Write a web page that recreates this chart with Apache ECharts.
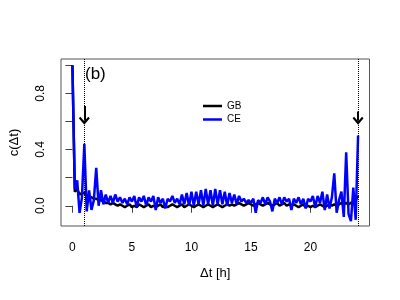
<!DOCTYPE html>
<html>
<head>
<meta charset="utf-8">
<script src="https://cdn.jsdelivr.net/npm/echarts@6/dist/echarts.min.js"></script>
<style>
html,body{margin:0;padding:0;background:#fff;}
#chart{width:400px;height:300px;}
</style>
</head>
<body>
<div id="chart"></div>
<script>
// lag in hours (step 0.2 h, 0 .. 24)
var lagStep = 0.2;
var lagCount = 121;
var lags = [];
for (var i = 0; i < lagCount; i++) { lags.push(+(i * lagStep).toFixed(1)); }

var gbValues = [
 1.00, 0.10, 0.12, 0.08, 0.09, 0.09, 0.07, 0.07, 0.06, 0.05,
 0.05, 0.04, 0.04, 0.03, 0.02, 0.02, 0.01, 0.02, 0.01, 0.00,
 0.01, 0.00, -0.01, 0.00, 0.01, -0.01, 0.00, -0.01, 0.01, 0.00,
 -0.01, 0.00, 0.01, -0.01, 0.00, -0.01, 0.00, 0.01, -0.01, 0.00,
 -0.01, 0.00, 0.01, 0.00, -0.01, 0.00, 0.01, -0.01, 0.00, 0.01,
 0.00, -0.01, 0.00, 0.01, 0.00, -0.01, 0.00, 0.01, 0.00, -0.01,
 0.00, 0.01, 0.00, -0.01, 0.00, 0.01, 0.00, 0.01, 0.00, 0.01,
 0.02, 0.01, 0.00, 0.01, 0.02, 0.01, 0.00, 0.01, 0.02, 0.01,
 0.00, 0.01, 0.02, 0.01, 0.00, 0.01, 0.02, 0.00, 0.01, 0.02,
 0.00, 0.01, 0.00, 0.01, 0.00, -0.01, 0.00, 0.01, -0.01, 0.00,
 -0.01, 0.00, -0.01, 0.00, 0.01, 0.00, -0.01, 0.00, 0.01, 0.00,
 0.01, 0.00, 0.01, 0.02, 0.01, 0.02, 0.01, 0.02, 0.03, 0.04,
 0.07
];

var ceValues = [
 1.00, 0.12, 0.18, -0.05, 0.06, 0.44, -0.04, 0.11, -0.03, 0.04,
 0.27, 0.00, 0.11, 0.01, 0.08, 0.02, 0.07, 0.02, 0.08, 0.03,
 0.06, 0.02, 0.05, 0.01, 0.06, 0.03, 0.07, -0.01, 0.06, 0.03,
 0.07, 0.00, 0.06, 0.03, 0.07, -0.03, 0.06, 0.02, 0.05, -0.02,
 0.05, 0.03, 0.07, 0.02, 0.05, 0.01, 0.08, 0.01, 0.09, 0.00,
 0.10, 0.00, 0.10, 0.01, 0.11, 0.00, 0.12, 0.01, 0.11, 0.00,
 0.12, 0.01, 0.11, 0.01, 0.10, 0.00, 0.09, 0.02, 0.08, 0.01,
 0.07, 0.03, 0.05, 0.02, 0.04, 0.02, 0.05, -0.05, 0.04, 0.02,
 0.06, 0.01, 0.06, 0.03, -0.04, 0.05, 0.02, 0.06, 0.01, 0.06,
 0.03, 0.05, -0.03, 0.05, 0.02, 0.06, 0.01, 0.05, -0.02, 0.05,
 0.03, 0.07, -0.01, 0.07, 0.02, 0.10, -0.03, 0.08, -0.02, 0.06,
 0.23, -0.05, 0.04, 0.10, -0.08, 0.38, -0.06, -0.11, 0.13, -0.10,
 0.50
];

var xTicks = [0, 5, 10, 15, 20];
var yTicks = [0, 0.2, 0.4, 0.6, 0.8, 1.0];
var yLabels = [0, 0.4, 0.8];
var markLags = [1, 24];

function pairs(vals) {
  var out = [];
  for (var i = 0; i < vals.length; i++) out.push([lags[i], vals[i]]);
  return out;
}

var chevron = 'path://M5,0 L10,6 L8.6,7.4 L5,3.2 L1.4,7.4 L0,6 Z';

var chart = echarts.init(document.getElementById('chart'), null, {renderer: 'canvas'});
chart.setOption({
  animation: false,
  backgroundColor: '#fff',
  textStyle: {fontFamily: 'Liberation Sans, Arial, sans-serif'},
  title: {
    text: '(b)', left: 80, top: 61,
    textStyle: {fontSize: 17, fontWeight: 'normal', color: '#000', fontFamily: 'Liberation Sans, Arial, sans-serif'}
  },
  grid: {
    left: 58.5, right: 30.5, top: 59, bottom: 74,
    show: true, borderColor: '#555', borderWidth: 1, backgroundColor: 'transparent'
  },
  legend: {
    data: ['GB', 'CE'],
    orient: 'vertical', left: 198, top: 95,
    icon: 'rect',
    itemWidth: 19, itemHeight: 2.5, itemGap: 1.5,
    textStyle: {fontSize: 10, color: '#000', lineHeight: 12, fontFamily: 'Liberation Sans, Arial, sans-serif'}
  },
  xAxis: {
    type: 'value', min: -0.96, max: 24.96,
    name: 'Δt [h]', nameLocation: 'middle', nameGap: 41,
    nameTextStyle: {fontSize: 13, color: '#000'},
    axisLine: {show: false},
    splitLine: {show: false},
    axisTick: {show: true, length: 7, customValues: xTicks, lineStyle: {color: '#444'}},
    axisLabel: {customValues: xTicks, fontSize: 12, color: '#000', margin: 16}
  },
  yAxis: {
    type: 'value', min: -0.144, max: 1.044,
    name: 'c(Δt)', nameLocation: 'middle', nameGap: 40,
    nameTextStyle: {fontSize: 13, color: '#000'},
    axisLine: {show: false},
    splitLine: {show: false},
    axisTick: {show: true, length: 7, customValues: yTicks, lineStyle: {color: '#444'}},
    axisLabel: {customValues: yLabels, fontSize: 12, color: '#000', rotate: 90, margin: 14,
      formatter: function (v) { return v.toFixed(1); }}
  },
  series: [
    {
      name: 'GB', type: 'line', data: pairs(gbValues),
      symbol: 'none', color: '#000',
      lineStyle: {width: 2.5, color: '#000'},
      z: 2,
      markLine: {
        silent: true, symbol: ['none', 'none'], label: {show: false},
        lineStyle: {type: 'dotted', color: '#000', width: 1},
        data: [{xAxis: markLags[0]}, {xAxis: markLags[1]}]
      }
    },
    {
      name: 'CE', type: 'line', data: pairs(ceValues),
      symbol: 'none', color: '#0000ff',
      lineStyle: {width: 2.5, color: '#0000ff'},
      z: 3,
      markLine: {
        silent: true, symbol: ['none', chevron], symbolSize: [11, 8],
        label: {show: false},
        lineStyle: {type: 'solid', color: '#000', width: 2},
        data: [
          [{coord: [markLags[0], 0.71]}, {coord: [markLags[0], 0.605]}],
          [{coord: [markLags[1], 0.67]}, {coord: [markLags[1], 0.605]}]
        ]
      }
    }
  ]
});
</script>
</body>
</html>
